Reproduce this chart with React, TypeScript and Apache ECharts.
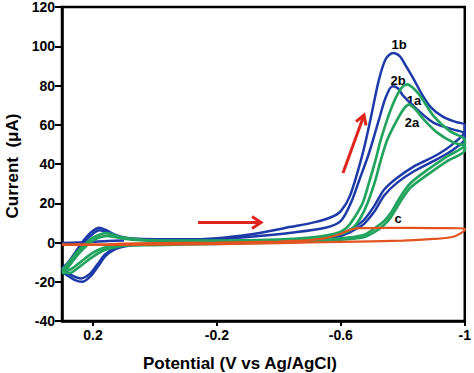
import React, { useEffect, useRef } from "react";
import * as echarts from "echarts";

const xTicks = [0.2, -0.2, -0.6, -1];

const blue1b: [number, number][] = [
  [0.3, -13], [0.285, -11], [0.27, -8], [0.255, -4.5], [0.24, -1], [0.22, 3], [0.2, 6], [0.18, 7.5], [0.16, 6.5], [0.14, 4.8], [0.11, 3], [0.07, 2], [0.0, 1.6], [-0.1, 1.6], [-0.2, 2.2], [-0.3, 3.9], [-0.44, 8], [-0.52, 10.5], [-0.57, 13], [-0.6, 16], [-0.63, 24], [-0.67, 45], [-0.696, 63], [-0.723, 83], [-0.745, 93.5], [-0.769, 96.6], [-0.79, 95], [-0.81, 90], [-0.836, 83], [-0.86, 76], [-0.89, 69], [-0.93, 64], [-0.97, 61.5], [-1.0, 60],
  [-1.0, 57], [-0.96, 50], [-0.911, 44.7], [-0.87, 41.5], [-0.836, 38.8], [-0.782, 33], [-0.74, 27], [-0.707, 18.4], [-0.675, 11.6], [-0.65, 8.5], [-0.63, 6.5], [-0.59, 3.9], [-0.5, 1.8], [-0.3, 0.5], [-0.1, -0.3], [0.05, -1], [0.1, -1.8], [0.13, -3], [0.16, -6], [0.185, -11], [0.21, -16], [0.24, -18.3], [0.265, -17], [0.285, -15], [0.3, -13],
];

const blue2b: [number, number][] = [
  [0.3, -15], [0.285, -13], [0.27, -10], [0.255, -6], [0.24, -2.5], [0.22, 1.5], [0.2, 4.5], [0.18, 6.3], [0.16, 5.5], [0.14, 4], [0.11, 2.5], [0.07, 1.6], [0, 1.2], [-0.1, 1.2], [-0.2, 1.6], [-0.3, 2.8], [-0.44, 5], [-0.55, 7.5], [-0.6, 11], [-0.632, 20], [-0.66, 32], [-0.691, 45.6], [-0.723, 62.6], [-0.745, 74], [-0.767, 79.6], [-0.785, 78.5], [-0.8, 75], [-0.847, 67.7], [-0.9, 61], [-0.964, 57.5], [-1, 55.5],
  [-1, 53], [-0.96, 47], [-0.911, 42.5], [-0.836, 36.3], [-0.782, 30.5], [-0.74, 24], [-0.707, 15.5], [-0.675, 9.5], [-0.65, 7], [-0.63, 5.2], [-0.59, 3], [-0.5, 1.2], [-0.3, 0.2], [-0.1, -0.5], [0.05, -1.2], [0.1, -2], [0.13, -3.5], [0.16, -7], [0.185, -12.5], [0.21, -17.5], [0.235, -20], [0.26, -19], [0.285, -16.5], [0.3, -15],
];

const blueStart: [number, number][] = [
  [0.3, -0.2], [0.25, 0], [0.2, 0.4], [0.15, 0.8], [0.1, 1],
];

const green1a: [number, number][] = [
  [0.3, -14], [0.285, -11.5], [0.27, -8.5], [0.245, -3.7], [0.22, 0], [0.2, 2.5], [0.18, 4], [0.159, 4.8], [0.14, 4.3], [0.12, 3.2], [0.09, 2.2], [0.04, 1.4], [0, 1.1], [-0.2, 1], [-0.4, 1.5], [-0.5, 2.5], [-0.56, 3.8], [-0.6, 5.5], [-0.622, 8], [-0.645, 13], [-0.67, 20], [-0.69, 30], [-0.712, 42], [-0.729, 52.4], [-0.761, 67.7], [-0.79, 77.5], [-0.814, 80.6], [-0.835, 78.5], [-0.857, 74.5], [-0.9, 64.3], [-0.953, 56.6], [-1, 52.4],
  [-1, 50], [-0.943, 43.9], [-0.879, 37], [-0.825, 30.3], [-0.793, 23.5], [-0.761, 15], [-0.74, 11], [-0.718, 8.2], [-0.676, 3.9], [-0.63, 2.6], [-0.59, 2], [-0.4, 0.5], [-0.2, -0.3], [0, -0.8], [0.1, -1], [0.14, -1.8], [0.17, -3], [0.2, -5.2], [0.245, -10.5], [0.275, -13.8], [0.3, -14],
];

const green2a: [number, number][] = [
  [0.3, -15.5], [0.285, -13.5], [0.27, -10.5], [0.245, -5.5], [0.22, -1.5], [0.2, 1], [0.18, 2.6], [0.155, 3.4], [0.13, 2.8], [0.1, 2], [0.05, 1.2], [0, 0.8], [-0.2, 0.7], [-0.4, 1.2], [-0.5, 2], [-0.59, 4], [-0.62, 5.5], [-0.643, 8], [-0.665, 13], [-0.686, 20], [-0.71, 31], [-0.729, 42], [-0.75, 52.4], [-0.782, 62.6], [-0.805, 68.5], [-0.82, 70.3], [-0.84, 68], [-0.868, 62.6], [-0.911, 56], [-0.964, 50.9], [-1, 49],
  [-1, 47], [-0.943, 41.5], [-0.879, 34.5], [-0.825, 28], [-0.793, 21], [-0.761, 12.8], [-0.74, 9], [-0.718, 6.3], [-0.676, 2.8], [-0.63, 1.8], [-0.59, 1.3], [-0.4, 0], [-0.2, -0.7], [0, -1.3], [0.1, -1.6], [0.14, -2.8], [0.17, -4.3], [0.2, -7.2], [0.245, -12.5], [0.275, -15.5], [0.3, -15.5],
];

const orangeC: [number, number][] = [
  [0.3, -1], [0.2, -1], [0.1, -0.6], [0, -0.3], [-0.2, 0], [-0.4, 0.5], [-0.5, 1.2], [-0.55, 2.2], [-0.6, 4.5], [-0.63, 6.5], [-0.66, 7.3], [-0.75, 7.5], [-0.9, 7.3], [-1, 7.2],
  [-1, 6.5], [-0.985, 4.5], [-0.96, 2.8], [-0.9, 1.8], [-0.8, 1], [-0.6, 0.3], [-0.4, -0.3], [-0.2, -0.8], [0, -1.1], [0.2, -1.2], [0.3, -1.2],
];

const BLUE = "#1d3aa8";
const GREEN = "#22a35e";
const ORANGE = "#e2531f";
const RED = "#e0251c";
const FONT = '"Liberation Sans", Arial, sans-serif';

function lineSeries(name: string, data: [number, number][], color: string, width = 2.5) {
  return {
    name,
    type: "line",
    data,
    smooth: 0.3,
    symbol: "none",
    showSymbol: false,
    lineStyle: { color, width },
    itemStyle: { color },
    silent: true,
  };
}

export default function App() {
  const ref = useRef<HTMLDivElement>(null);
  useEffect(() => {
    const chart = echarts.init(ref.current!, null, { renderer: "svg" });
    const labelStyle = (text: string, x: number, y: number) => ({
      type: "text",
      x,
      y,
      style: {
        text,
        font: `bold 13px ${FONT}`,
        fill: "#000",
        textAlign: "center",
        textVerticalAlign: "middle",
        align: "center",
        verticalAlign: "middle",
      },
    });
    chart.setOption({
      animation: false,
      grid: {
        left: 62,
        right: 6,
        top: 7,
        bottom: 52,
        show: true,
        borderColor: "#000",
        borderWidth: 2.5,
        backgroundColor: "transparent",
      },
      xAxis: {
        type: "value",
        inverse: true,
        min: -1,
        max: 0.3,
        axisLine: { show: true, onZero: false, lineStyle: { color: "#000", width: 2.5 } },
        axisTick: { show: true, customValues: xTicks, length: 5, lineStyle: { color: "#000", width: 2 } },
        axisLabel: {
          customValues: xTicks,
          formatter: (v: number) => String(v),
          color: "#000",
          fontWeight: "bold",
          fontSize: 14,
          fontFamily: FONT,
          margin: 7,
        },
        splitLine: { show: false },
      },
      yAxis: {
        type: "value",
        min: -40,
        max: 120,
        interval: 20,
        axisLine: { show: true, onZero: false, lineStyle: { color: "#000", width: 2.5 } },
        axisTick: { show: true, length: 7, lineStyle: { color: "#000", width: 2 } },
        axisLabel: {
          color: "#000",
          fontWeight: "bold",
          fontSize: 14,
          fontFamily: FONT,
          margin: 7,
        },
        splitLine: { show: false },
      },
      series: [
        lineSeries("1b", blue1b, BLUE),
        lineSeries("2b", blue2b, BLUE),
        lineSeries("start", blueStart, BLUE),
        lineSeries("1a", green1a, GREEN, 2.7),
        lineSeries("2a", green2a, GREEN, 2.7),
        lineSeries("c", orangeC, ORANGE, 2.2),
      ],
      graphic: [
        {
          type: "text",
          x: 240,
          y: 363,
          style: {
            text: "Potential (V vs Ag/AgCl)",
            font: `bold 17px ${FONT}`,
            fill: "#000",
            textAlign: "center",
            textVerticalAlign: "middle",
            align: "center",
            verticalAlign: "middle",
          },
        },
        {
          type: "text",
          x: 12,
          y: 166,
          rotation: Math.PI / 2,
          style: {
            text: "Current  (\u03bcA)",
            font: `bold 17px ${FONT}`,
            fill: "#000",
            textAlign: "center",
            textVerticalAlign: "middle",
            align: "center",
            verticalAlign: "middle",
          },
        },
        labelStyle("1b", 399, 44),
        labelStyle("2b", 398, 80),
        labelStyle("1a", 414, 100),
        labelStyle("2a", 412, 122),
        labelStyle("c", 398, 218),
        { type: "line", shape: { x1: 198, y1: 222.5, x2: 261, y2: 222.5 }, style: { stroke: RED, lineWidth: 3 } },
        { type: "polyline", shape: { points: [[252, 216.5], [261, 222.5], [252, 228.5]] }, style: { stroke: RED, lineWidth: 3, fill: "none" } },
        { type: "line", shape: { x1: 343, y1: 173, x2: 364, y2: 115 }, style: { stroke: RED, lineWidth: 3 } },
        { type: "polyline", shape: { points: [[356, 121.6], [364, 115], [366, 125.4]] }, style: { stroke: RED, lineWidth: 3, fill: "none" } },
      ],
    });
    return () => chart.dispose();
  }, []);
  return <div ref={ref} style={{ position: "absolute", left: 0, top: 0, width: 474, height: 373 }} />;
}
